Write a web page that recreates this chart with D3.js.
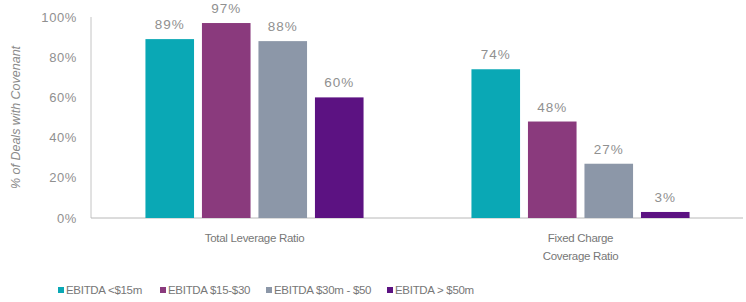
<!DOCTYPE html>
<html>
<head>
<meta charset="utf-8">
<script src="https://cdn.jsdelivr.net/npm/d3@7"></script>
<style>
  body { margin: 0; background: #fff; }
  svg { font-family: "Liberation Sans", Arial, sans-serif; }
</style>
</head>
<body>
<svg width="746" height="302"></svg>
<script>
var svg = d3.select("svg");

// data
var categories = [["Total Leverage Ratio"], ["Fixed Charge", "Coverage Ratio"]];
var series = ["EBITDA <$15m", "EBITDA $15-$30", "EBITDA $30m - $50", "EBITDA > $50m"];
var values = [
    [89, 97, 88, 60],
    [74, 48, 27, 3]
];
var yTicks = [0, 20, 40, 60, 80, 100];
var colors = ["#0aa8b5", "#8a3a7d", "#8c97a8", "#5c1282"];

var margin = { left: 91, right: 2, top: 17, bottom: 84 };
var width = 746, height = 302;

var x0 = d3.scaleBand()
    .domain(d3.range(categories.length))
    .range([margin.left, width - margin.right])
    .paddingInner(0.331)
    .paddingOuter(0.167);

var x1 = d3.scaleBand()
    .domain(d3.range(series.length))
    .range([0, x0.bandwidth()])
    .paddingInner(0.14);

var y = d3.scaleLinear()
    .domain([0, 100])
    .range([height - margin.bottom, margin.top]);

// y axis labels
svg.append("g")
    .selectAll("text")
    .data(yTicks)
    .enter().append("text")
    .attr("x", 77)
    .attr("y", d => y(d))
    .attr("dy", "0.35em")
    .attr("text-anchor", "end")
    .attr("fill", "#909090")
    .style("font-size", "13px")
    .style("letter-spacing", "0.6px")
    .text(d => d + "%");

// axis lines
svg.append("line")
    .attr("x1", margin.left).attr("x2", margin.left)
    .attr("y1", y(100)).attr("y2", y(0))
    .attr("stroke", "#c4c4c4");
svg.append("line")
    .attr("x1", margin.left).attr("x2", width - 3)
    .attr("y1", y(0)).attr("y2", y(0))
    .attr("stroke", "#b8b8b8");

// y title
svg.append("text")
    .attr("transform", "translate(20," + y(50) + ") rotate(-90)")
    .attr("text-anchor", "middle")
    .attr("fill", "#8a8a8a")
    .style("font-size", "12.5px")
    .style("font-style", "italic")
    .text("% of Deals with Covenant");

// bars
var group = svg.append("g")
    .selectAll("g")
    .data(values)
    .enter().append("g")
    .attr("transform", (d, i) => "translate(" + x0(i) + ",0)");

group.selectAll("rect")
    .data(d => d)
    .enter().append("rect")
    .attr("x", (d, i) => x1(i))
    .attr("y", d => y(d))
    .attr("width", x1.bandwidth())
    .attr("height", d => y(0) - y(d))
    .attr("fill", (d, i) => colors[i]);

group.selectAll("text.val")
    .data(d => d)
    .enter().append("text")
    .attr("class", "val")
    .attr("x", (d, i) => x1(i) + x1.bandwidth() / 2)
    .attr("y", d => y(d) - 10)
    .attr("text-anchor", "middle")
    .attr("fill", "#909090")
    .style("font-size", "13.5px")
    .style("letter-spacing", "1px")
    .text(d => d + "%");

// category labels
svg.append("g")
    .selectAll("text")
    .data(categories)
    .enter().append("text")
    .attr("x", (d, i) => x0(i) + x0.bandwidth() / 2)
    .attr("y", 242)
    .attr("text-anchor", "middle")
    .attr("fill", "#777")
    .style("font-size", "11.5px")
    .style("letter-spacing", "-0.3px")
    .selectAll("tspan")
    .data(d => d)
    .enter().append("tspan")
    .attr("x", function () { return d3.select(this.parentNode).attr("x"); })
    .attr("dy", (d, i) => i ? 18 : 0)
    .text(d => d);

// legend
var legendX = [58, 160, 266, 387];
var legend = svg.append("g")
    .selectAll("g")
    .data(series)
    .enter().append("g")
    .attr("transform", (d, i) => "translate(" + legendX[i] + ",290)");

legend.append("rect")
    .attr("x", 0).attr("y", -3)
    .attr("width", 6).attr("height", 6)
    .attr("fill", (d, i) => colors[i]);

legend.append("text")
    .attr("x", 8)
    .attr("dy", "0.35em")
    .attr("fill", "#777")
    .style("font-size", "11.5px")
    .style("letter-spacing", "-0.3px")
    .text(d => d);
</script>
</body>
</html>
